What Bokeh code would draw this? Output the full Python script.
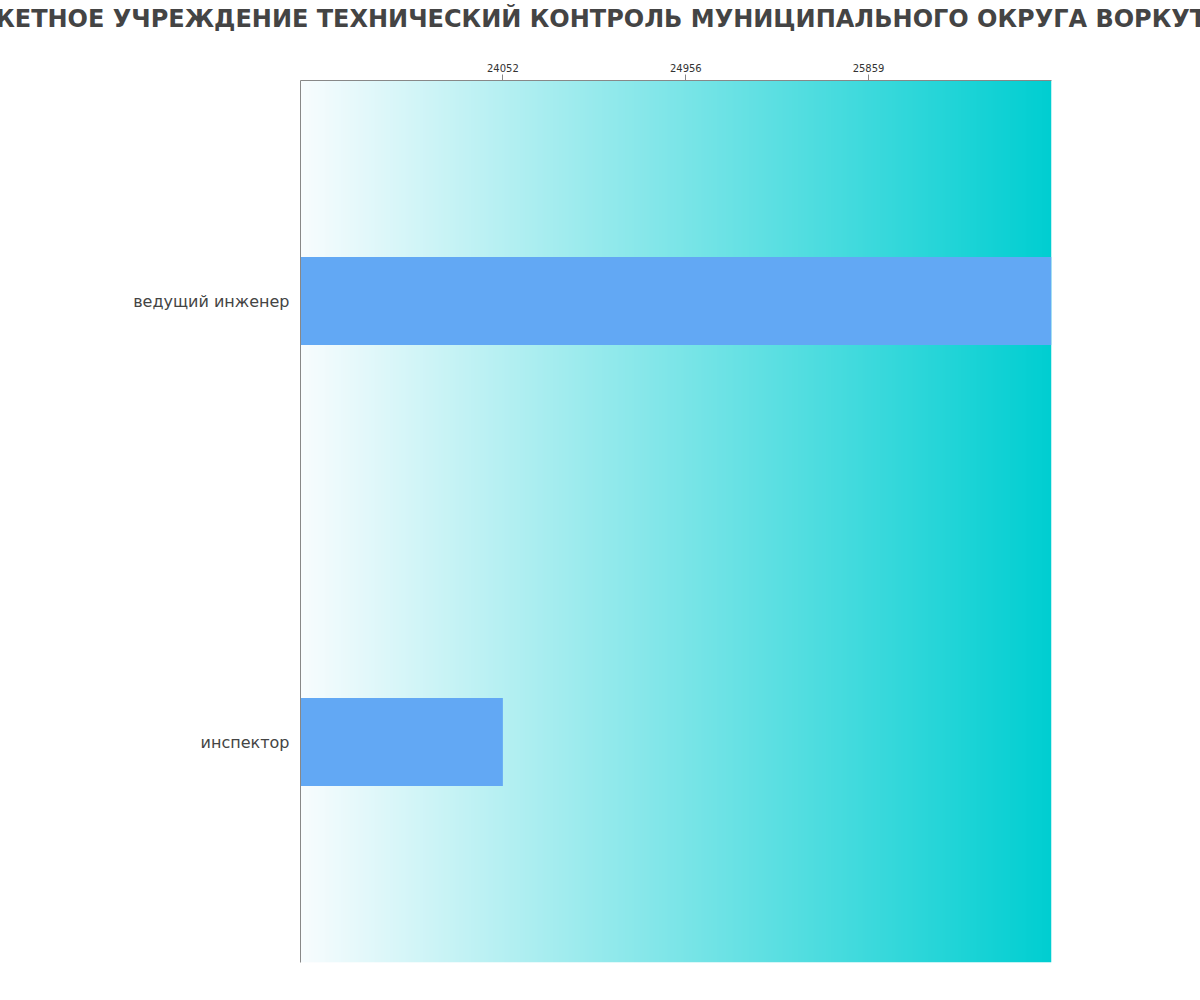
import numpy as np
from bokeh.plotting import figure
from bokeh.models import FactorRange, Range1d, FixedTicker, ColumnDataSource
from bokeh.embed import file_html
from bokeh.resources import INLINE

title_text = "МУНИЦИПАЛЬНОЕ БЮДЖЕТНОЕ УЧРЕЖДЕНИЕ ТЕХНИЧЕСКИЙ КОНТРОЛЬ МУНИЦИПАЛЬНОГО ОКРУГА ВОРКУТА РЕСПУБЛИКИ КОМИ"
categories = ["инспектор", "ведущий инженер"]
salaries = [24052, 26763]
tick_values = [24052, 24956, 25859]
x_start = 23052

grad_start = (248, 252, 254)
grad_end = (0, 206, 209)
bar_color = "#62A8F4"
FONT = "DejaVu Sans"

p = figure(
    width=1200, height=980,
    y_range=FactorRange(factors=categories),
    x_range=Range1d(x_start, max(salaries)),
    x_axis_location="above",
    output_backend="svg", toolbar_location=None,
    min_border_left=300, min_border_right=149,
    min_border_top=80, min_border_bottom=18,
    title=title_text + "\n",
)
p.outline_line_color = None
p.xgrid.visible = False
p.ygrid.visible = False

p.title.align = "left"
p.title.offset = -650
p.title.text_font = FONT
p.title.text_font_size = "24px"
p.title.text_font_style = "bold"
p.title.text_color = "#444444"
p.title.standoff = 0

# gradient background of the plot area
n = 600
t = np.linspace(0, 1, n)
img = np.empty((1, n), dtype=np.uint32)
view = img.view(dtype=np.uint8).reshape((1, n, 4))
for i in range(3):
    view[0, :, i] = np.round(grad_start[i] + (grad_end[i] - grad_start[i]) * t).astype(np.uint8)
view[0, :, 3] = 255
bg = ColumnDataSource(dict(image=[img], x=[x_start], y=[(categories[0], -0.5)],
                           dw=[max(salaries) - x_start], dh=[len(categories)]))
p.image_rgba(image="image", x="x", y="y", dw="dw", dh="dh", source=bg)

p.hbar(y=categories, left=x_start, right=salaries, height=0.2, color=bar_color, line_color=None)

xa = p.xaxis[0]
xa.ticker = FixedTicker(ticks=tick_values)
xa.axis_line_color = "#888888"
xa.major_tick_line_color = "#888888"
xa.minor_tick_line_color = None
xa.major_tick_in = 0
xa.major_tick_out = 6
xa.major_label_standoff = 3
xa.major_label_text_font = FONT
xa.major_label_text_font_size = "10px"
xa.major_label_text_color = "#333333"

ya = p.yaxis[0]
ya.axis_line_color = "#888888"
ya.major_tick_line_color = None
ya.minor_tick_line_color = None
ya.major_tick_in = 0
ya.major_tick_out = 0
ya.major_label_standoff = 11
ya.major_label_text_font = FONT
ya.major_label_text_font_size = "16px"
ya.major_label_text_color = "#444444"

open("out.html", "w").write(file_html(p, INLINE))
